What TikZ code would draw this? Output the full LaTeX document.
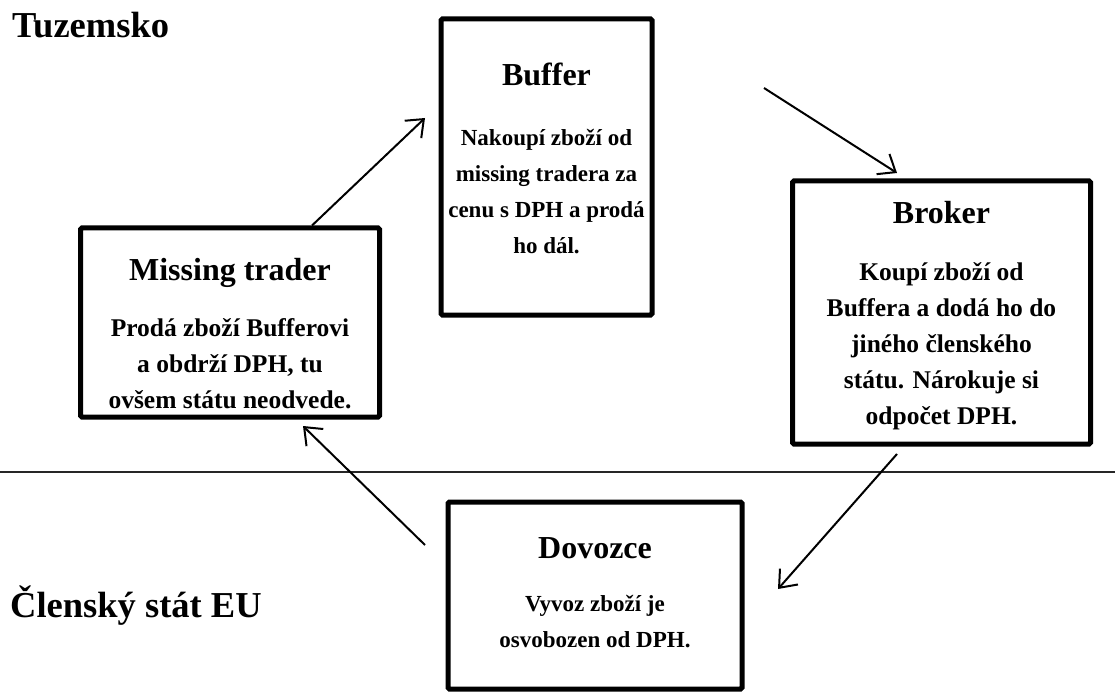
\documentclass[tikz,border=0pt]{standalone}
\usepackage{fontspec}
\setmainfont{Liberation Serif}
\usetikzlibrary{arrows.meta,calc}
\begin{document}
\begin{tikzpicture}[x=1pt,y=-1pt,
  box/.style={draw,line width=5pt,rounded corners=1.5pt,inner sep=0pt},
  ttl/.style={font=\fontsize{32}{36}\selectfont\bfseries,inner sep=0pt,anchor=center},
  body/.style={font=\fontsize{25.5}{36}\selectfont\bfseries,align=center,inner sep=0pt,anchor=north},
  bodys/.style={font=\fontsize{23}{36}\selectfont\bfseries,align=center,inner sep=0pt,anchor=north},
  region/.style={font=\fontsize{36.5}{40}\selectfont\bfseries,inner sep=0pt,anchor=west},
  arr/.style={line width=2pt,-{Straight Barb[length=15pt,width=24pt,line width=2pt]}}]
\useasboundingbox (0,0) rectangle (1115,692);
% divider
\draw[line width=1.6pt,black!85] (0,472) -- (1115,472);
% region labels
\node[region] (tuz) at (12,25) {Tuzemsko};
\node[region] (eu) at (10,606) {Členský stát EU};
% boxes
\node[box,minimum width=299pt,minimum height=189pt] (mt) at (230,322.5) {};
\node[box,minimum width=211pt,minimum height=296pt] (buf) at (546.5,167) {};
\node[box,minimum width=298pt,minimum height=263pt] (brk) at (941.5,312.5) {};
\node[box,minimum width=294pt,minimum height=187pt] (dov) at (595,595.5) {};
% texts
\node[ttl] (mtT) at ($(mt.north)+(0,47)$) {Missing trader};
\node[body] (mtB) at ($(mt.north)+(0,93)$) {Prodá zboží Bufferovi\\a obdrží DPH, tu\\ovšem státu neodvede.};
\node[ttl] (bufT) at ($(buf.north)+(0,58)$) {Buffer};
\node[bodys] (bufB) at ($(buf.north)+(0,113)$) {Nakoupí zboží od\\missing tradera za\\cenu s DPH a prodá\\ho dál.};
\node[ttl] (brkT) at ($(brk.north)+(0,34)$) {Broker};
\node[body] (brkB) at ($(brk.north)+(0,84)$) {Koupí zboží od\\Buffera a dodá ho do\\jiného členského\\státu. Nárokuje si\\odpočet DPH.};
\node[ttl] (dovT) at ($(dov.north)+(0,49)$) {Dovozce};
\node[bodys] (dovB) at ($(dov.north)+(0,96)$) {Vyvoz zboží je\\osvobozen od DPH.};
% arrow end points
\coordinate (a1s) at ($(mt.north)+(82,0)$);
\coordinate (a1e) at (425,118);
\coordinate (a2s) at (764,88);
\coordinate (a2e) at (897,173);
\coordinate (a3s) at (897,454);
\coordinate (a3e) at (778,589);
\coordinate (a4s) at (425,545);
\coordinate (a4e) at (303,426);
\draw[arr] (a1s) -- (a1e);
\draw[arr] (a2s) -- (a2e);
\draw[arr] (a3s) -- (a3e);
\draw[arr] (a4s) -- (a4e);
\end{tikzpicture}
\end{document}
